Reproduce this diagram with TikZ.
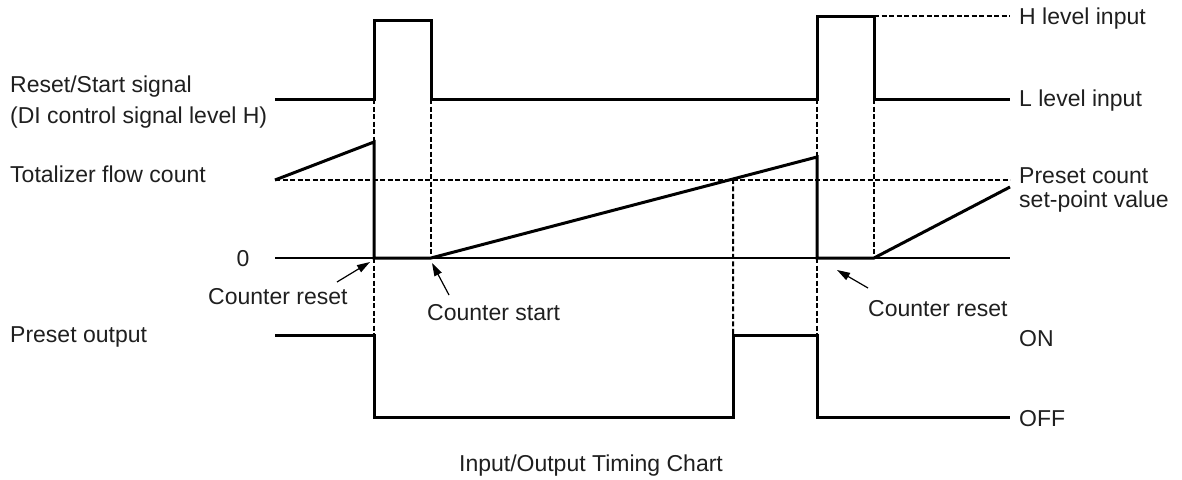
\documentclass[tikz,border=0pt]{standalone}
\usepackage{fontspec}
\setmainfont{Liberation Sans}
\usetikzlibrary{arrows.meta,calc}
\begin{document}
\begin{tikzpicture}[x=1pt,y=-1pt,
  sig/.style={line width=3pt, line join=miter},
  guide/.style={line width=2pt, dash pattern=on 5pt off 2.5pt},
  axisline/.style={line width=1.5pt},
  lbl/.style={anchor=base west, inner sep=0pt, font=\fontsize{23}{30}\selectfont, text=black!88},
  ptr/.style={line width=1.2pt, -{Triangle[length=13pt,width=8pt]}}]
\useasboundingbox (0,0) rectangle (1182,479);
% reset / start signal
\coordinate (r0) at (275,99);
\coordinate (r1) at (374,99);
\coordinate (r2) at (374,20);
\coordinate (r3) at (431,20);
\coordinate (r4) at (431,99);
\coordinate (r5) at (817,99);
\coordinate (r6) at (817,16);
\coordinate (r7) at (874,16);
\coordinate (r8) at (874,99);
\coordinate (r9) at (1010,99);
\coordinate (hend) at (1010,16);
% totalizer
\coordinate (t0) at (275,180);
\coordinate (t1) at (374,142);
\coordinate (t2) at (374,258);
\coordinate (t3) at (431,258);
\coordinate (t4) at (817,157);
\coordinate (t5) at (817,258);
\coordinate (t6) at (874,258);
\coordinate (t7) at (1010,187);
\coordinate (pend) at (1010,180);
\coordinate (z0) at (275,258);
\coordinate (zend) at (1010,258);
\coordinate (tc) at ($(t3)!{(733-431)/386}!(t4)$);
% preset output
\coordinate (p0) at (275,335);
\coordinate (p1) at (374,335);
\coordinate (p2) at (374,417);
\coordinate (p3) at (733,417);
\coordinate (p4) at (733,335);
\coordinate (p5) at (817,335);
\coordinate (p6) at (817,417);
\coordinate (p7) at (1010,417);

% guides
\draw[guide] (r7) -- (hend);
\draw[guide] (t0) -- (pend);
\draw[guide] (r1) -- (t1);
\draw[guide] (t2) -- (p1);
\draw[guide] (r4) -- (t3);
\draw[guide] (tc) -- (p4);
\draw[guide] (r5) -- (t4);
\draw[guide] (t5) -- (p5);
\draw[guide] (r8) -- (t6);
\draw[axisline] (z0) -- (zend);

% signals
\draw[sig] (r0) -- (r1) -- (r2) -- (r3) -- (r4) -- (r5) -- (r6) -- (r7) -- (r8) -- (r9);
\draw[sig] (t0) -- (t1) -- (t2) -- (t3) -- (t4) -- (t5) -- (t6) -- (t7);
\draw[sig] (p0) -- (p1) -- (p2) -- (p3) -- (p4) -- (p5) -- (p6) -- (p7);

% labels
\node[lbl] (lrs) at (10,92) {Reset/Start signal};
\node[lbl] (ldi) at (10,123) {(DI control signal level H)};
\node[lbl] (ltot) at (10,182) {Totalizer flow count};
\node[lbl, anchor=base] (lzero) at (243,266) {0};
\node[lbl] (lpo) at (10,342) {Preset output};
\node[lbl] (lcr1) at (208,304) {Counter reset};
\node[lbl] (lcs) at (427,320) {Counter start};
\node[lbl] (lcr2) at (868,316) {Counter reset};
\node[lbl] (lh) at (1019,24) {H level input};
\node[lbl] (ll) at (1019,106) {L level input};
\node[lbl] (lpc) at (1019,183) {Preset count};
\node[lbl] (lsp) at (1019,207) {set-point value};
\node[lbl] (lon) at (1019,346) {ON};
\node[lbl] (loff) at (1019,426) {OFF};
\node[lbl, anchor=base] (ltitle) at (591,471) {Input/Output Timing Chart};

% pointers
\coordinate (a1s) at (337,282);
\coordinate (a1e) at (370,262);
\coordinate (a2s) at (449,295);
\coordinate (a2e) at (432,263);
\coordinate (a3s) at (868,288);
\coordinate (a3e) at (837,270);
\draw[ptr] (a1s) -- (a1e);
\draw[ptr] (a2s) -- (a2e);
\draw[ptr] (a3s) -- (a3e);
\end{tikzpicture}
\end{document}
